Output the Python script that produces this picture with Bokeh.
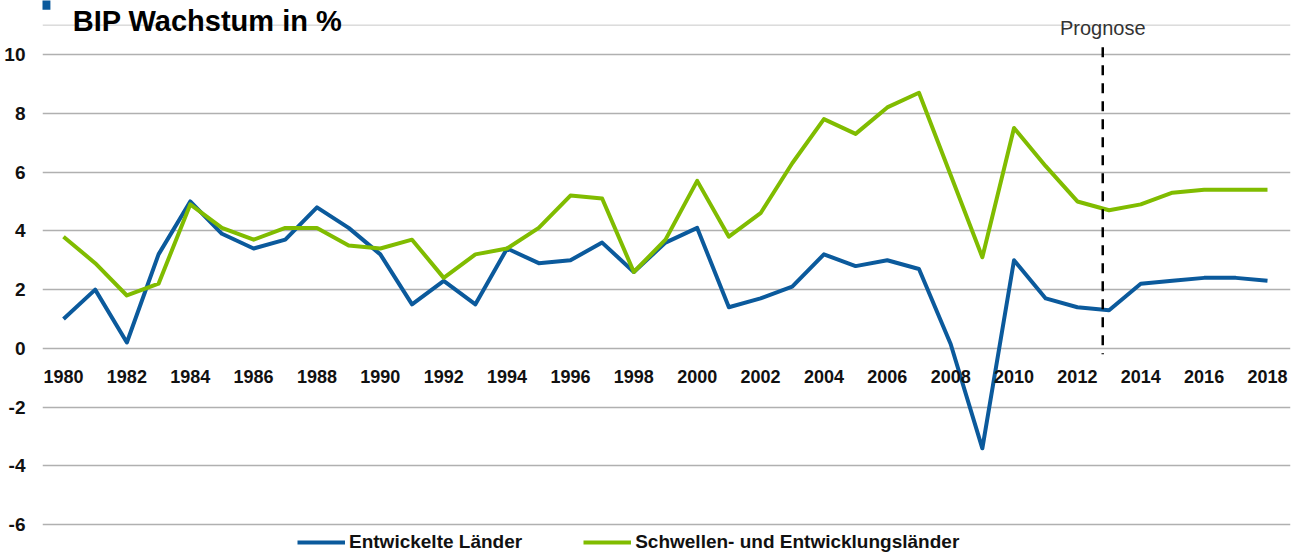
from bokeh.plotting import figure
from bokeh.models import Legend, LegendItem, Label, Span, FixedTicker, Range1d
from bokeh.embed import file_html
from bokeh.resources import INLINE

years = list(range(1980, 2019))
entwickelte = [1.0, 2.0, 0.2, 3.2, 5.0, 3.9, 3.4, 3.7, 4.8, 4.1,
               3.2, 1.5, 2.3, 1.5, 3.4, 2.9, 3.0, 3.6, 2.6, 3.6,
               4.1, 1.4, 1.7, 2.1, 3.2, 2.8, 3.0, 2.7, 0.15, -3.4,
               3.0, 1.7, 1.4, 1.3, 2.2, 2.3, 2.4, 2.4, 2.3]
schwellen = [3.8, 2.9, 1.8, 2.2, 4.9, 4.1, 3.7, 4.1, 4.1, 3.5,
             3.4, 3.7, 2.4, 3.2, 3.4, 4.1, 5.2, 5.1, 2.6, 3.7,
             5.7, 3.8, 4.6, 6.3, 7.8, 7.3, 8.2, 8.7, 5.9, 3.1,
             7.5, 6.2, 5.0, 4.7, 4.9, 5.3, 5.4, 5.4, 5.4]
y_ticks = [-6, -4, -2, 0, 2, 4, 6, 8, 10]
y_tick_labels = ["-6", "-4", "-2", "0", "2", "4", "6", "8", "10"]
x_ticks = list(range(1980, 2019, 2))
series_names = ["Entwickelte Länder", "Schwellen- und Entwicklungsländer"]
title_text = "BIP Wachstum in %"
prognose_text = "Prognose"
prognose_year = 2012.8

BLUE = "#0b5a9c"
GREEN = "#80bc00"
FONT = "Liberation Sans"

p = figure(width=1292, height=552, output_backend="svg", toolbar_location=None,
           x_range=Range1d(1979.337, 2018.726), y_range=Range1d(-6.945, 11.838),
           min_border_left=42, min_border_right=2, min_border_top=0, min_border_bottom=0)
p.outline_line_color = None
p.background_fill_color = "white"
p.xgrid.visible = False

# y axis
p.yaxis.ticker = FixedTicker(ticks=y_ticks)
p.yaxis.major_label_overrides = {t: s for t, s in zip(y_ticks, y_tick_labels)}
p.ygrid.ticker = FixedTicker(ticks=y_ticks)
p.ygrid.grid_line_color = "#b0b0b0"
p.ygrid.grid_line_width = 1.6
p.yaxis.axis_line_color = None
p.yaxis.major_tick_line_color = None
p.yaxis.minor_tick_line_color = None
p.yaxis.major_label_standoff = 11
p.yaxis.major_label_text_font = FONT
p.yaxis.major_label_text_font_style = "bold"
p.yaxis.major_label_text_font_size = "19px"
p.yaxis.major_label_text_color = "#111111"

# x axis at y = 0
p.xaxis.fixed_location = 0
p.xaxis.ticker = FixedTicker(ticks=x_ticks)
p.xaxis.axis_line_color = None
p.xaxis.major_tick_line_color = None
p.xaxis.minor_tick_line_color = None
p.xaxis.major_label_standoff = 16
p.xaxis.major_label_text_font = FONT
p.xaxis.major_label_text_font_style = "bold"
p.xaxis.major_label_text_font_size = "18px"
p.xaxis.major_label_text_color = "#111111"

# header line
p.add_layout(Span(location=11.0, dimension="width", line_color="#c8c8c8", line_width=1))

r1 = p.line(years, entwickelte, line_color=BLUE, line_width=4, line_join="round")
r2 = p.line(years, schwellen, line_color=GREEN, line_width=4, line_join="round")

# Prognose marker
p.segment(x0=[prognose_year], y0=[10.25], x1=[prognose_year], y1=[-0.2],
          line_color="black", line_width=2.5, line_dash="10 8")
p.add_layout(Label(x=prognose_year, y=10.9, text=prognose_text, text_align="center",
                   text_baseline="middle", text_font=FONT,
                   text_font_size="20px", text_color="#333333"))

p.add_layout(Label(x=1980.29, y=11.13, text=title_text, text_align="left",
                   text_baseline="middle", text_font=FONT,
                   text_font_style="bold", text_font_size="29px", text_color="black"))

# corner block
p.add_layout(Label(x=1978.0, y=11.9, text=" ", text_font_size="1px",
                   text_align="left", text_baseline="top",
                   background_fill_color=BLUE,
                   padding=dict(left=0, right=50, top=0, bottom=10)))

legend = Legend(items=[LegendItem(label=series_names[0], renderers=[r1]),
                       LegendItem(label=series_names[1], renderers=[r2])],
                orientation="horizontal", location=(255, -1),
                background_fill_alpha=0, border_line_color=None,
                padding=0, margin=0, spacing=61, glyph_width=48, glyph_height=14,
                label_height=14, label_standoff=4,
                label_text_font=FONT, label_text_font_style="bold",
                label_text_font_size="19px", label_text_color="#111111")
p.add_layout(legend)

open("out.html", "w").write(file_html(p, INLINE))
